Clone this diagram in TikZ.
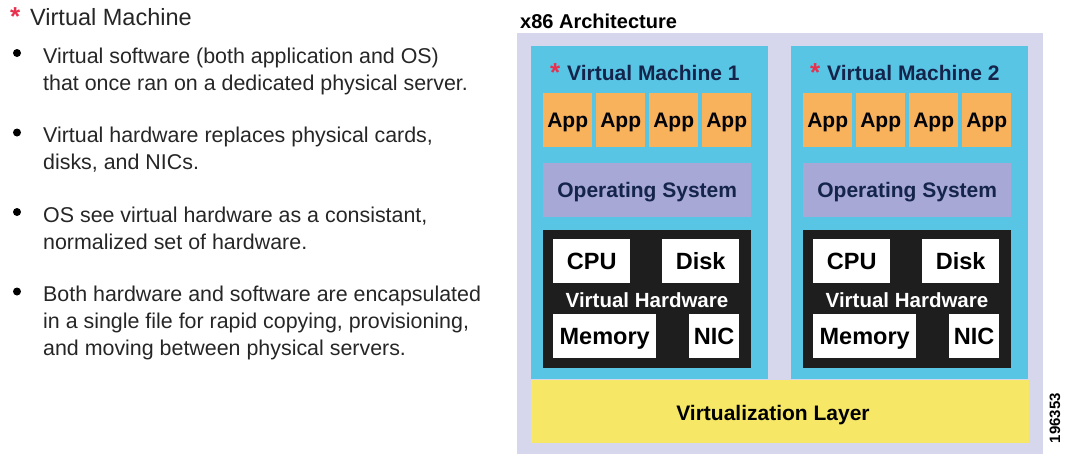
\documentclass[tikz,border=0pt]{standalone}
\usepackage{fontspec}
\setmainfont{Liberation Sans}
\definecolor{lav}{HTML}{D6D6EC}
\definecolor{cyanvm}{HTML}{58C5E5}
\definecolor{app}{HTML}{F8B25C}
\definecolor{osc}{HTML}{A7A8D6}
\definecolor{hw}{HTML}{1E1E1E}
\definecolor{yel}{HTML}{F6E866}
\definecolor{redstar}{HTML}{E8304F}
\definecolor{navy}{HTML}{14244A}
\definecolor{txt}{HTML}{262626}
\tikzset{
  area/.style={rectangle, inner sep=0pt, anchor=north west, draw=none},
  lbl/.style={area, text depth=0pt, text height=15pt, text=navy,
    font=\bfseries\fontsize{21}{21}\selectfont},
  hwl/.style={area, fill=white, text depth=0pt, text height=16.8pt, text=black,
    font=\bfseries\fontsize{23.5}{23.5}\selectfont},
  bodytxt/.style={anchor=base west, inner sep=0pt, text=txt,
    font=\fontsize{21.4}{21.4}\selectfont},
  dot/.style={circle, fill=black, inner sep=0pt, minimum size=8pt},
  star/.style={anchor=base west, inner sep=0pt, text=redstar,
    font=\bfseries\fontsize{26}{26}\selectfont},
  vmtitle/.style={anchor=base west, inner sep=0pt, text=navy,
    font=\bfseries\fontsize{21}{21}\selectfont},
}
\begin{document}
\begin{tikzpicture}[x=1pt,y=-1pt]
\useasboundingbox[fill=white] (0,0) rectangle (1067,459);

% left text
\node[star] (hstar) at (10,25) {*};
\node[anchor=base west, inner sep=0pt, text=txt, font=\fontsize{23.5}{23.5}\selectfont] (head) at (30,25) {Virtual Machine};

\node[dot] (b1) at (17,53) {};
\node[bodytxt] (l11) at (43,63) {Virtual software (both application and OS)};
\node[bodytxt] (l12) at (43,90) {that once ran on a dedicated physical server.};
\node[dot] (b2) at (17,132.5) {};
\node[bodytxt] (l21) at (43,142.5) {Virtual hardware replaces physical cards,};
\node[bodytxt] (l22) at (43,169.5) {disks, and NICs.};
\node[dot] (b3) at (17,212) {};
\node[bodytxt] (l31) at (43,222) {OS see virtual hardware as a consistant,};
\node[bodytxt] (l32) at (43,249) {normalized set of hardware.};
\node[dot] (b4) at (17,291.5) {};
\node[bodytxt] (l41) at (43,301.5) {Both hardware and software are encapsulated};
\node[bodytxt] (l42) at (43,328.5) {in a single file for rapid copying, provisioning,};
\node[bodytxt] (l43) at (43,355.5) {and moving between physical servers.};

% diagram
\node[anchor=base west, inner sep=0pt, text=black, font=\bfseries\fontsize{20}{20}\selectfont] (arch) at (520,28) {x86 Architecture};
\node[area, fill=lav, minimum width=526pt, minimum height=421pt] (outer) at (517,33) {};

\foreach \i/\dx in {1/0,2/260}{
  \node[area, fill=cyanvm, minimum width=237pt, minimum height=333pt] (vm\i) at (531+\dx,46) {};
  \node[star] (st\i) at (550+\dx,81) {*};
  \node[vmtitle] (t\i) at (567+\dx,80) {Virtual Machine \i};
  \foreach \k/\ax in {1/543,2/596,3/649,4/702}{
    \node[lbl, fill=app, text=black!85!navy, minimum width=49pt, minimum height=54pt] (app\i\k) at (\ax+\dx,93) {App};
  }
  \node[lbl, fill=osc, minimum width=208pt, minimum height=54pt] (os\i) at (543+\dx,163) {Operating System};
  \node[area, fill=hw, minimum width=208pt, minimum height=138pt] (hw\i) at (543+\dx,230) {};
  \node[hwl, minimum width=77pt, minimum height=44pt] (cpu\i) at (553+\dx,239) {CPU};
  \node[hwl, minimum width=77pt, minimum height=44pt] (disk\i) at (662+\dx,239) {Disk};
  \node[hwl, minimum width=103pt, minimum height=44pt] (mem\i) at (553+\dx,314) {Memory};
  \node[hwl, minimum width=50pt, minimum height=44pt] (nic\i) at (689+\dx,314) {NIC};
  \node[inner sep=0pt, text=white, text height=14pt, text depth=0pt,
    font=\bfseries\fontsize{20.5}{20.5}\selectfont] (vh\i) at (647+\dx,300) {Virtual Hardware};
}
\node[area, fill=yel, minimum width=498pt, minimum height=63pt] (virt) at (531,380) {};
\node[inner sep=0pt, text=black, text height=15pt, text depth=0pt,
  font=\bfseries\fontsize{21}{21}\selectfont] (virtl) at (773,413) {Virtualization Layer};
\node[rotate=90, inner sep=0pt, text=black, font=\bfseries\fontsize{15}{15}\selectfont] (fig) at (1055,418) {196353};
\end{tikzpicture}
\end{document}
